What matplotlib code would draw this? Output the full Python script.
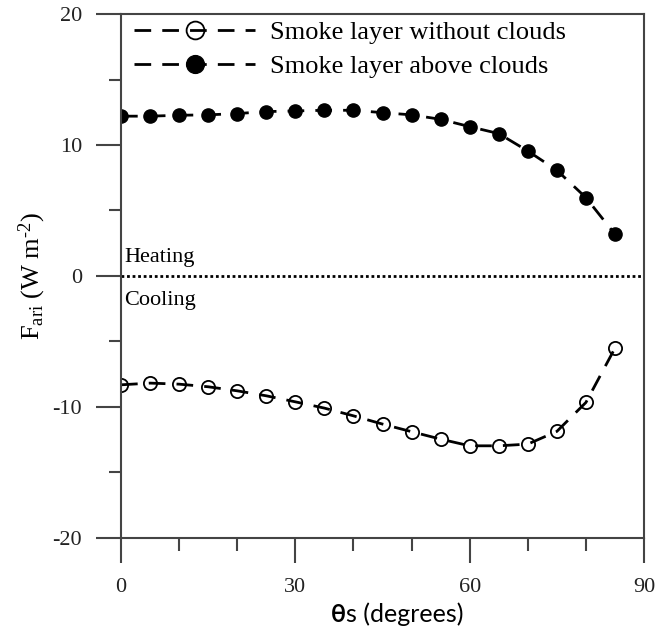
import matplotlib
matplotlib.use("agg")
from matplotlib import pyplot as plt
from matplotlib.ticker import MultipleLocator

# solar zenith angle (degrees)
theta_s = [0, 5, 10, 15, 20, 25, 30, 35, 40, 45, 50, 55, 60, 65, 70, 75, 80, 85]

# F_ari (W m-2)
without_clouds = [-8.32, -8.19, -8.27, -8.47, -8.78, -9.16, -9.62, -10.1, -10.69,
                  -11.32, -11.9, -12.47, -12.98, -12.98, -12.85, -11.88, -9.67, -5.52]
above_clouds = [12.2, 12.2, 12.27, 12.3, 12.4, 12.55, 12.6, 12.65, 12.65,
                12.47, 12.3, 11.96, 11.4, 10.87, 9.54, 8.07, 5.98, 3.18]

label_without = "Smoke layer without clouds"
label_above = "Smoke layer above clouds"

plt.rcParams["font.family"] = ["Liberation Serif", "DejaVu Serif"]
plt.rcParams["mathtext.fontset"] = "custom"
plt.rcParams["mathtext.rm"] = "Liberation Serif"
plt.rcParams["mathtext.it"] = "Liberation Serif:italic"
plt.rcParams["axes.unicode_minus"] = False

spine_col = "#444444"

fig = plt.figure(figsize=(6.56, 6.39), dpi=100)
ax = fig.add_axes([0.1845, 0.1585, 0.7972, 0.8195])

ax.plot(theta_s, without_clouds, color="black", lw=2, dashes=(6, 4),
        marker="o", ms=9.5, mfc="none", mec="black", mew=1.3, label=label_without)
ax.plot(theta_s, above_clouds, color="black", lw=2, dashes=(6, 4),
        marker="o", ms=9.5, mfc="black", mec="black", label=label_above)
ax.axhline(0, color="black", lw=2, ls=(0, (1, 1)))

ax.set_xlim(0, 90)
ax.set_ylim(-20, 20)
ax.xaxis.set_major_locator(MultipleLocator(30))
ax.xaxis.set_minor_locator(MultipleLocator(10))
ax.yaxis.set_major_locator(MultipleLocator(10))
ax.yaxis.set_minor_locator(MultipleLocator(5))

for s in ax.spines.values():
    s.set_color(spine_col)
    s.set_linewidth(1.5)
ax.tick_params(which="major", direction="out", length=18, width=1.5, color=spine_col,
               labelsize=16, labelcolor="#222222")
ax.tick_params(which="minor", direction="out", length=9, width=1.5, color=spine_col)
ax.tick_params(axis="x", which="major", pad=11)
ax.tick_params(axis="y", which="major", pad=10)

ax.text(0.5, 1.4, "Heating", fontsize=16, va="center", ha="left")
ax.text(0.5, -1.9, "Cooling", fontsize=16, va="center", ha="left")

ax.set_ylabel("$\\mathrm{F_{ari}\\ (W\\ m^{\u2010 2})}$", fontsize=19, labelpad=3)

# x label: bold theta followed by regular text, sans font
t1 = fig.text(0.505, 0.027, "θ", fontsize=18, fontweight="bold", family="Lato",
              ha="left", va="baseline")
ax.annotate("s (degrees)", xy=(1, 0), xycoords=t1, fontsize=18, family="Lato",
            ha="left", va="bottom")

ax.legend(loc="upper left", bbox_to_anchor=(0.012, 1.0), frameon=False, fontsize=19,
          handlelength=4.6, borderaxespad=0.1, borderpad=0.15, handletextpad=0.55,
          labelspacing=0.4, markerscale=1.35)

fig.savefig("out.png", dpi=100)
